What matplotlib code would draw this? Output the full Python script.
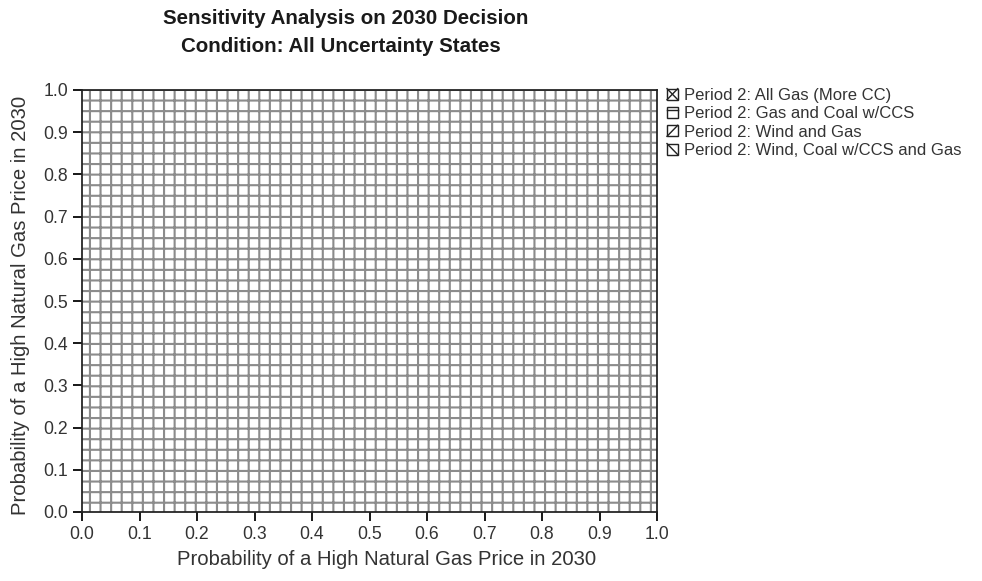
import matplotlib.pyplot as plt
from matplotlib.patches import Patch, Rectangle
from matplotlib.lines import Line2D
from matplotlib.legend_handler import HandlerBase

plt.rcParams["font.family"] = ["Liberation Sans", "DejaVu Sans"]
plt.rcParams["hatch.linewidth"] = 1.2

# decision alternatives shown in the key
options = [
    "Period 2: All Gas (More CC)",
    "Period 2: Gas and Coal w/CCS",
    "Period 2: Wind and Gas",
    "Period 2: Wind, Coal w/CCS and Gas",
]

# optimal-decision region: Gas and Coal w/CCS wins everywhere
region_x = [0.0, 1.0]
region_low = [0.0, 0.0]
region_high = [1.0, 1.0]

ticks = [0.0, 0.1, 0.2, 0.3, 0.4, 0.5, 0.6, 0.7, 0.8, 0.9, 1.0]
tick_labels = ["%.1f" % t for t in ticks]

# little pattern drawn inside each key box (fractions of the box)
key_marks = [
    [(0, 0, 1, 1), (0, 1, 1, 0)],
    [(0, 0.7, 1, 0.7)],
    [(0, 0, 1, 1)],
    [(0, 1, 1, 0)],
]


class KeyBox(HandlerBase):
    def __init__(self, segs):
        super().__init__()
        self.segs = segs

    def create_artists(self, legend, orig_handle, xdescent, ydescent,
                       width, height, fontsize, trans):
        x0, y0 = -xdescent, -ydescent
        arts = [Rectangle((x0, y0), width, height, facecolor="white",
                          edgecolor="#222222", lw=0.8, transform=trans)]
        for a, b, c, d in self.segs:
            arts.append(Line2D([x0 + a * width, x0 + c * width],
                               [y0 + b * height, y0 + d * height],
                               color="#222222", lw=0.8, transform=trans))
        return arts


dpi = 127
fig = plt.figure(figsize=(982 / dpi, 581 / dpi), dpi=dpi)
ax = fig.add_axes([82 / 982, 1 - 512 / 581, 575 / 982, 422 / 581])

ax.fill_between(region_x, region_low, region_high, facecolor="white",
                edgecolor="#8c8c8c", hatch="++", linewidth=0)

ax.set_xlim(0, 1)
ax.set_ylim(0, 1)
ax.set_xticks(ticks)
ax.set_xticklabels(tick_labels)
ax.set_yticks(ticks)
ax.set_yticklabels(tick_labels)
ax.tick_params(direction="out", length=5, width=1, labelsize=10,
               labelcolor="#333333", pad=3)
for s in ax.spines.values():
    s.set_linewidth(1.0)
    s.set_color("#222222")

ax.set_xlabel("Probability of a High Natural Gas Price in 2030",
              fontsize=11.5, color="#333333")
ax.xaxis.set_label_coords(0.529, -0.09)
ax.set_ylabel("Probability of a High Natural Gas Price in 2030",
              fontsize=11.5, color="#333333")
ax.yaxis.set_label_coords(-0.09, 0.49)

fig.text(346 / 982, 1 - 18 / 581, "Sensitivity Analysis on 2030 Decision",
         ha="center", va="center", fontsize=11.6, fontweight="bold",
         color="#1a1a1a")
fig.text(341 / 982, 1 - 47 / 581, "Condition: All Uncertainty States",
         ha="center", va="center", fontsize=11.6, fontweight="bold",
         color="#1a1a1a")

handles = [Patch(label=o) for o in options]
fig.legend(handles, options, loc="upper left",
           bbox_to_anchor=(667 / 982, 1 - 88 / 581), frameon=False,
           fontsize=9.4, handlelength=0.65, handleheight=0.65,
           handletextpad=0.35, labelspacing=0.2, borderpad=0,
           borderaxespad=0, labelcolor="#333333",
           handler_map={h: KeyBox(m) for h, m in zip(handles, key_marks)})

fig.savefig("out.png", dpi=dpi)
